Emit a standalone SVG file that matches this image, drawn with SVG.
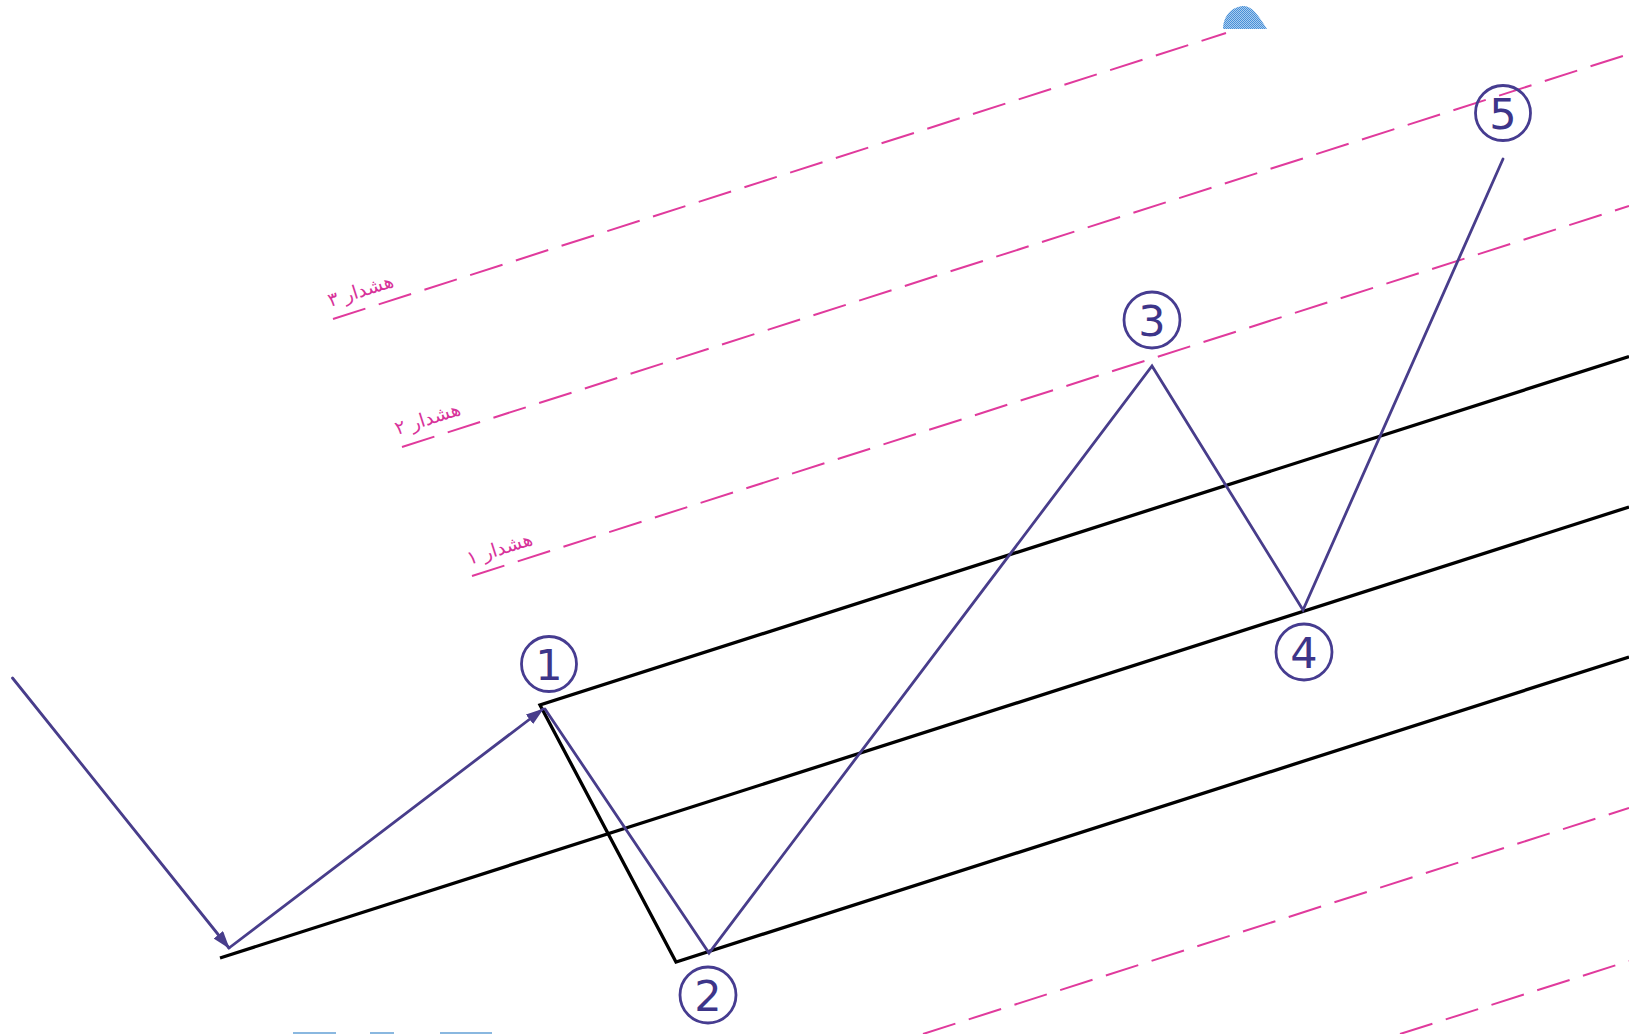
<svg xmlns="http://www.w3.org/2000/svg" width="1629" height="1034" viewBox="0 0 1629 1034">
<defs>
<style>
.wave{fill:none;stroke:#483d8b;stroke-width:2.8;stroke-linecap:round;stroke-linejoin:miter}
.chan{fill:none;stroke:#000;stroke-width:3.3;stroke-linejoin:miter}
.warn{fill:none;stroke:#e03a9c;stroke-width:2;stroke-dasharray:34 14}
.ring{fill:none;stroke:#463c90;stroke-width:2.8}
.num{font-family:"DejaVu Sans",Verdana,sans-serif;font-size:43px;fill:#3d3589;text-anchor:middle}
.lbl{font-family:"DejaVu Sans","Noto Sans",sans-serif;font-size:19px;fill:#d8329a;text-anchor:middle}
.bar{fill:#8ab8e0}
</style>
<marker id="ah" markerUnits="userSpaceOnUse" markerWidth="18" markerHeight="12" viewBox="0 0 18 12" refX="17" refY="6" orient="auto">
<path d="M0,0 L18,6 L0,12 Z" fill="#483d8b"/>
</marker>
<pattern id="dither" width="2" height="2" patternUnits="userSpaceOnUse">
<rect width="2" height="2" fill="#a8cdf0"/>
<rect width="1" height="1" fill="#4a8fd6"/>
<rect x="1" y="1" width="1" height="1" fill="#4a8fd6"/>
</pattern>
</defs>
<rect width="1629" height="1034" fill="#fff"/>

<g id="warning-lines">
<path class="warn" d="M333,319 L1226,33"/>
<path class="warn" d="M402,447 L1629,54"/>
<path class="warn" d="M472,576 L1629,206"/>
<path class="warn" d="M923,1034 L1629,808"/>
<path class="warn" d="M1400,1034 L1629,961"/>
<g transform="translate(361,292) rotate(-17.7)"><text class="lbl" x="0" y="5" textLength="68" lengthAdjust="spacingAndGlyphs">هشدار ۳</text></g>
<g transform="translate(428,420) rotate(-17.7)"><text class="lbl" x="0" y="5" textLength="68" lengthAdjust="spacingAndGlyphs">هشدار ۲</text></g>
<g transform="translate(500,550) rotate(-17.7)"><text class="lbl" x="0" y="5" textLength="68" lengthAdjust="spacingAndGlyphs">هشدار ۱</text></g>
</g>

<g id="channel">
<path class="chan" d="M220,958 L1629,507"/>
<path class="chan" d="M1629,356.5 L540,705 L676,962 L1629,657"/>
</g>

<g id="connectors">
<path class="wave" d="M12.5,678 L229,948" marker-end="url(#ah)"/>
<path class="wave" d="M229,948 L543,709" marker-end="url(#ah)"/>
<path class="wave" d="M545,709 L709,953 L1152,366 L1303,610 L1503,159"/>
</g>

<g id="n1"><circle class="ring" cx="549" cy="664" r="27.5"/><text class="num" x="549" y="680">1</text></g>
<g id="n2"><circle class="ring" cx="708" cy="995" r="28"/><text class="num" x="708" y="1011">2</text></g>
<g id="n3"><circle class="ring" cx="1152" cy="320" r="28"/><text class="num" x="1152" y="336">3</text></g>
<g id="n4"><circle class="ring" cx="1304" cy="652" r="28"/><text class="num" x="1304" y="668">4</text></g>
<g id="n5"><circle class="ring" cx="1503" cy="113" r="27.5"/><text class="num" x="1503" y="129">5</text></g>

<g id="decor">
<path d="M1223,29 C1223,15 1233,6 1244,6 C1252,6 1258,15 1267,29 Z" fill="url(#dither)"/>
<rect class="bar" x="293" y="1032" width="43" height="2"/>
<rect class="bar" x="370" y="1032" width="24" height="2"/>
<rect class="bar" x="440" y="1032" width="52" height="2"/>
</g>
</svg>
